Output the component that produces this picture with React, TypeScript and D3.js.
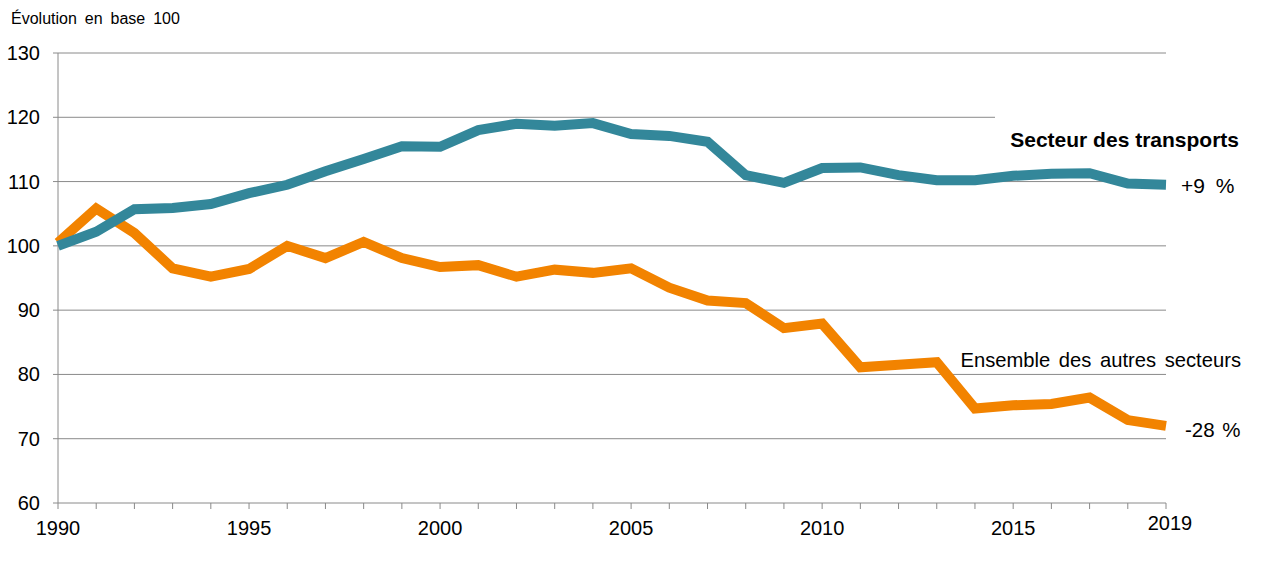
import React from "react";
import * as d3 from "d3";

const years: number[] = d3.range(1990, 2020);
const transports: number[] = [
  100.0, 102.2, 105.7, 105.9, 106.5, 108.2, 109.5, 111.6, 113.5, 115.5,
  115.4, 118.0, 119.0, 118.7, 119.1, 117.4, 117.1, 116.2, 111.0, 109.8,
  112.1, 112.2, 111.0, 110.2, 110.2, 110.9, 111.2, 111.3, 109.7, 109.5,
];
const autres: number[] = [
  100.5, 105.8, 102.0, 96.5, 95.2, 96.4, 100.0, 98.1, 100.6, 98.1,
  96.7, 97.0, 95.2, 96.3, 95.8, 96.5, 93.5, 91.5, 91.1, 87.2,
  87.9, 81.1, 81.5, 81.9, 74.7, 75.2, 75.4, 76.4, 72.9, 72.0,
];
const yTicks: number[] = [60, 70, 80, 90, 100, 110, 120, 130];
const xLabelYears: number[] = [1990, 1995, 2000, 2005, 2010, 2015, 2019];

const W = 1273;
const H = 561;
const left = 58;
const right = 1166;
const top = 53;
const bottom = 503;
const grid = "#8a8a8a";
const teal = "#33879a";
const orange = "#f28300";
const font = "Arial, 'Liberation Sans', sans-serif";

export default function App() {
  const x = d3.scaleLinear().domain([1990, 2019]).range([left, right]);
  const y = d3.scaleLinear().domain([60, 130]).range([bottom, top]);
  const line = d3
    .line<number>()
    .x((_, i) => x(years[i]))
    .y((d) => y(d));

  return (
    <svg
      width={W}
      height={H}
      style={{ position: "absolute", left: 0, top: 0, background: "#fff" }}
      fontFamily={font}
    >
      <rect x={0} y={0} width={W} height={H} fill="#fff" />
      {yTicks
        .filter((t) => t > 60)
        .map((t) => (
          <line
            key={"g" + t}
            x1={left}
            x2={t === 120 ? 995 : right}
            y1={y(t)}
            y2={y(t)}
            stroke={grid}
            strokeWidth={1}
          />
        ))}
      <line x1={left} x2={left} y1={top} y2={bottom} stroke={grid} strokeWidth={1} />
      <line x1={left} x2={right} y1={bottom} y2={bottom} stroke={grid} strokeWidth={1} />
      {yTicks.map((t) => (
        <line key={"yt" + t} x1={left - 5} x2={left} y1={y(t)} y2={y(t)} stroke={grid} />
      ))}
      {years.map((yr) => (
        <line
          key={"xt" + yr}
          x1={x(yr)}
          x2={x(yr)}
          y1={bottom}
          y2={bottom + 6}
          stroke={grid}
        />
      ))}
      {yTicks.map((t) => (
        <text
          key={"yl" + t}
          x={40}
          y={y(t) + 7}
          textAnchor="end"
          fontSize={20}
          fill="#000"
        >
          {t}
        </text>
      ))}
      {xLabelYears.map((yr) => (
        <text
          key={"xl" + yr}
          x={x(yr) + (yr === 2019 ? 4 : 0)}
          y={yr === 2019 ? 530 : 535}
          textAnchor="middle"
          fontSize={20}
          fill="#000"
        >
          {yr}
        </text>
      ))}
      <text x={11} y={24} fontSize={16} wordSpacing={3.5} fill="#000">
        Évolution en base 100
      </text>
      <path d={line(autres) || ""} fill="none" stroke={orange} strokeWidth={10} strokeLinejoin="miter" />
      <path d={line(transports) || ""} fill="none" stroke={teal} strokeWidth={10} strokeLinejoin="miter" />
      <text x={1239} y={147} textAnchor="end" fontSize={21} fontWeight="bold" fill="#000">
        Secteur des transports
      </text>
      <text x={1181} y={193} fontSize={21} wordSpacing={5} fill="#000">
        +9 %
      </text>
      <text x={1241} y={367} textAnchor="end" fontSize={20.2} wordSpacing={3} fill="#000">
        Ensemble des autres secteurs
      </text>
      <text x={1185} y={437} fontSize={20.5} wordSpacing={2} fill="#000">
        -28 %
      </text>
    </svg>
  );
}
